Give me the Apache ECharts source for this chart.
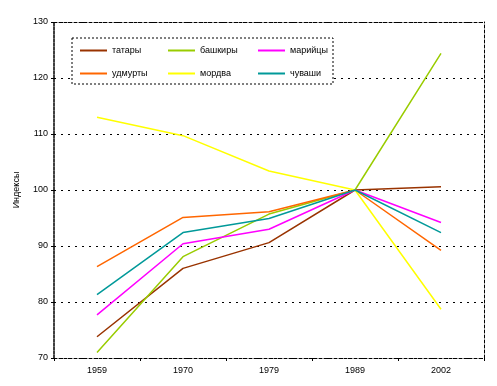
<!DOCTYPE html>
<html><head><meta charset="utf-8">
<script src="https://cdn.jsdelivr.net/npm/echarts@6/dist/echarts.min.js"></script>
<style>html,body{margin:0;padding:0;background:#fff}#c{width:497px;height:386px}</style>
</head><body><div id="c"></div>
<script>
var years = ['1959', '1970', '1979', '1989', '2002'];
var yTicks = [70, 80, 90, 100, 110, 120, 130];
var names = ['татары', 'башкиры', 'марийцы', 'удмурты', 'мордва', 'чуваши'];
var tatary = [73.8, 86.0, 90.6, 100, 100.6];
var bashkiry = [71.0, 88.1, 95.7, 100, 124.4];
var mariitsy = [77.7, 90.4, 93.0, 100, 94.2];
var udmurty = [86.3, 95.1, 96.1, 100, 89.2];
var mordva = [113.0, 109.7, 103.4, 100, 78.7];
var chuvashi = [81.3, 92.4, 94.9, 100, 92.4];
var colors = ['#993300', '#99CC00', '#FF00FF', '#FF6600', '#FFFF00', '#009999'];
var seriesData = [tatary, bashkiry, mariitsy, udmurty, mordva, chuvashi];

var chart = echarts.init(document.getElementById('c'));
var font = 'Liberation Sans, Arial, sans-serif';
function legend(left, data) {
  return {
    top: 46, left: left, orient: 'vertical', itemWidth: 27, itemHeight: 2, itemGap: 14, icon: 'rect', z: 20,
    data: data, selectedMode: false, padding: 0,
    textStyle: { fontSize: 9, color: '#000', fontFamily: font }
  };
}
chart.setOption({
  animation: false,
  color: colors,
  grid: { left: 54, right: 13, top: 22, bottom: 28 },
  legend: [legend(80, [names[0], names[3]]), legend(168, [names[1], names[4]]), legend(258, [names[2], names[5]])],
  graphic: [{
    type: 'rect', shape: { x: 72, y: 38, width: 261, height: 46 },
    style: { fill: '#fff', stroke: '#000', lineWidth: 1, lineDash: [2, 2] }, z: 5
  }],
  xAxis: [{
    type: 'category', data: years, boundaryGap: true,
    axisLine: { lineStyle: { color: '#000', type: [3, 2] } },
    axisTick: { show: true, length: 3, lineStyle: { color: '#000' } },
    axisLabel: { fontSize: 9, color: '#000', fontFamily: font, margin: 8 }
  }, {
    type: 'category', data: years, position: 'top', boundaryGap: true,
    axisLine: { lineStyle: { color: '#000', type: [3, 2] } },
    axisTick: { show: false }, axisLabel: { show: false }
  }],
  yAxis: [{
    type: 'value', min: yTicks[0], max: yTicks[yTicks.length - 1], interval: 10,
    name: 'Индексы', nameLocation: 'middle', nameGap: 33, nameRotate: 90,
    nameTextStyle: { fontSize: 9, color: '#000', fontFamily: font },
    axisLine: { show: true, lineStyle: { color: '#000', width: 1.5, type: [3, 1] } },
    axisTick: { show: true, length: 3, lineStyle: { color: '#000' } },
    axisLabel: { fontSize: 9, color: '#000', fontFamily: font, margin: 6 },
    splitLine: { show: true, lineStyle: { color: '#000', type: [2, 5] } }
  }, {
    type: 'value', min: yTicks[0], max: yTicks[yTicks.length - 1], interval: 10, position: 'right',
    axisLine: { show: true, lineStyle: { color: '#000', type: [3, 2] } },
    axisTick: { show: false }, axisLabel: { show: false }, splitLine: { show: false }
  }],
  series: names.map(function (n, i) {
    return {
      name: n, type: 'line', data: seriesData[i], showSymbol: false, symbol: 'none',
      lineStyle: { width: 1.5, color: colors[i] }, itemStyle: { color: colors[i] }
    };
  })
});
</script></body></html>
